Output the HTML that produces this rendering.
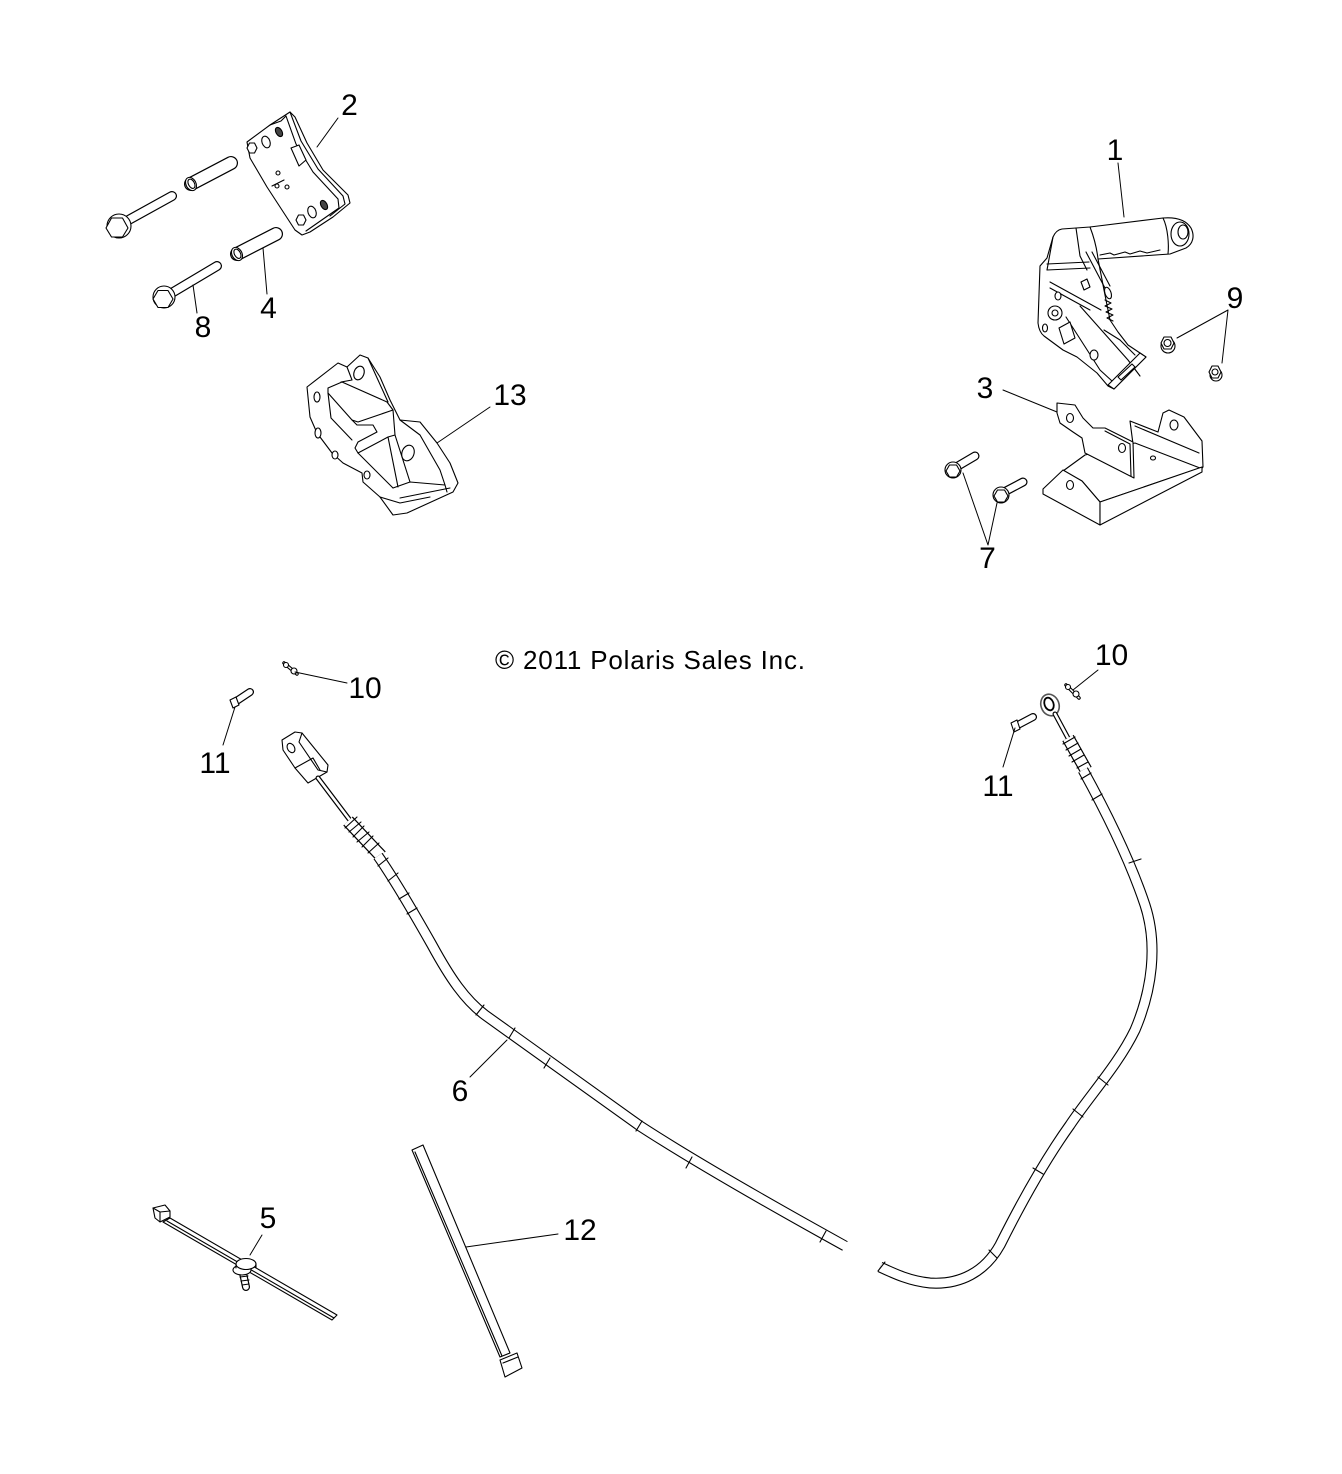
<!DOCTYPE html>
<html><head><meta charset="utf-8"><style>
html,body{margin:0;padding:0;background:#fff;}
svg{display:block;}
text{font-family:"Liberation Sans",Arial,sans-serif;fill:#000;}
</style></head><body>
<svg width="1342" height="1474" viewBox="0 0 1342 1474" xmlns="http://www.w3.org/2000/svg">
<rect width="1342" height="1474" fill="#fff"/>
<g fill="#fff" stroke="#000" stroke-width="1.1" stroke-linejoin="round" stroke-linecap="round">

<!-- ===== PART 2 group (bolts, sleeves, bracket) ===== -->
<path d="M125,222 L172,196" stroke-width="10" fill="none"/>
<path d="M125,222 L172,196" stroke="#fff" stroke-width="7.6" fill="none"/>
<circle cx="119" cy="226" r="12"/>
<polygon points="128,228 122.5,237 111.5,237 106,228 111.5,218 122.5,218"/>
<path d="M191,184 L231,163" stroke-width="14" fill="none"/>
<path d="M191,184 L231,163" stroke="#fff" stroke-width="11.6" fill="none"/>
<ellipse cx="191" cy="184" rx="5" ry="7" transform="rotate(-28 191 184)"/>
<ellipse cx="191.5" cy="184" rx="3" ry="5" transform="rotate(-28 191 184)"/>
<path d="M170,294 L217,266" stroke-width="10" fill="none"/>
<path d="M170,294 L217,266" stroke="#fff" stroke-width="7.6" fill="none"/>
<circle cx="164" cy="297" r="11"/>
<polygon points="173,299 168,307.5 158,307.5 153,299 158,290.5 168,290.5"/>
<path d="M237,254 L276,234" stroke-width="14" fill="none"/>
<path d="M237,254 L276,234" stroke="#fff" stroke-width="11.6" fill="none"/>
<ellipse cx="237" cy="254" rx="5" ry="7" transform="rotate(-28 237 254)"/>
<ellipse cx="237.5" cy="254" rx="3" ry="5" transform="rotate(-28 237 254)"/>
<path d="M247,142 L270,125 L290,112 L295,117 L307,143 L323,170 L348,195 L350,203 L333,217 L310,232 L302,235 L295,230 L267,187 L250,158 Z"/>
<path d="M290,112 L301,141 L318,169 L343,196" fill="none"/>
<path d="M286,116 L296,144 L313,172 L338,199" fill="none"/>
<path d="M270,125 L281,121 L286,116" fill="none"/>
<path d="M343,196 L345,204 L330,216" fill="none"/>
<path d="M338,199 L339,208 L306,231" fill="none"/>
<path d="M291,148 L299,145 L306,160 L299,166 Z"/>
<polygon points="257,148 254.5,153 249.5,153 247,148 249.5,143 254.5,143"/>
<ellipse cx="266" cy="142" rx="4" ry="6" transform="rotate(-20 266 142)"/>
<ellipse cx="279" cy="132" rx="3" ry="5" fill="#444" transform="rotate(-30 279 132)"/>
<polygon points="306,220 303.5,225 298.5,225 296,220 298.5,215 303.5,215"/>
<ellipse cx="312" cy="212" rx="4" ry="6" transform="rotate(-20 312 212)"/>
<ellipse cx="324" cy="205" rx="3" ry="5" fill="#444" transform="rotate(-30 324 205)"/>
<circle cx="278" cy="173" r="2"/>
<circle cx="277" cy="186" r="2"/>
<circle cx="287" cy="187" r="2"/>
<path d="M272,186 L284,180" fill="none"/>

<!-- ===== PART 13 ===== -->
<path d="M307,387 L338,363 L347,367 L360,355 L368,358 L380,377 L390,400 L400,420 L420,422 L437,443 L450,463 L458,483 L453,492 L407,513 L393,515 L380,497 L363,482 L362,473 L343,463 L332,453 L317,433 L310,417 Z"/>
<path d="M347,367 L352,380 L341,382" fill="none"/>
<path d="M368,358 L378,380 L388,402" fill="none"/>
<path d="M328,388 L342,382 L387,402 L393,410 L358,422 L352,420 L328,393 Z"/>
<path d="M352,420 L357,425 L373,425 L377,432 L358,442 L355,448 L358,453 L388,437 L395,435" fill="none"/>
<path d="M393,410 L395,435 L410,482" fill="none"/>
<path d="M388,437 L398,487" fill="none"/>
<path d="M358,453 L393,488" fill="none"/>
<path d="M328,393 L331,418 L352,440" fill="none"/>
<path d="M400,420 L420,435 L440,470 L445,485" fill="none"/>
<path d="M393,488 L410,482 L445,485 L447,492" fill="none"/>
<path d="M400,498 L430,492 L450,488" fill="none"/>
<path d="M380,497 L400,503 L430,497" fill="none"/>
<ellipse cx="317" cy="397" rx="3" ry="5"/>
<ellipse cx="318" cy="433" rx="3" ry="5"/>
<ellipse cx="335" cy="455" rx="3" ry="4"/>
<ellipse cx="367" cy="475" rx="3" ry="4"/>
<ellipse cx="408" cy="453" rx="6" ry="8" transform="rotate(20 408 453)"/>
<ellipse cx="359" cy="373" rx="5" ry="7" transform="rotate(20 359 373)"/>

<!-- ===== PART 1 lever ===== -->
<path d="M1090,227 L1163,218 C1176,217 1186,220 1191,228 C1195,236 1193,244 1186,248 L1170,254 L1098,259 L1104,290 L1110,320 L1118,332 L1128,345 L1140,353 L1146,357 L1114,389 L1108,386 L1097,373 L1077,357 L1063,350 L1044,336 Q1039,332 1038,323 L1040,266 L1047,258 L1053,237 Q1056,230 1062,229 L1076,228 Z"/>
<path d="M1090,227 C1095,240 1097,250 1098,259" fill="none"/>
<path d="M1163,218 C1168,228 1169,245 1168,254" fill="none"/>
<ellipse cx="1180" cy="234" rx="9" ry="12"/>
<ellipse cx="1183" cy="232" rx="5" ry="7"/>
<path d="M1100,255 L1110,253 L1114,255 L1125,252 L1130,254 L1140,251 L1147,253 L1160,250" fill="none"/>
<path d="M1047,270 L1090,268" fill="none"/>
<path d="M1047,264 L1089,262" fill="none"/>
<path d="M1053,237 L1047,270" fill="none"/>
<path d="M1076,228 L1080,256 L1087,270" fill="none"/>
<path d="M1086,252 L1106,290" fill="none"/>
<path d="M1092,252 L1110,286" fill="none"/>
<ellipse cx="1108" cy="293" rx="3" ry="6" transform="rotate(-20 1108 293)"/>
<path d="M1105,300 L1111,303 L1105,306 L1112,309 L1106,312 L1113,315 L1107,318 L1113,321" fill="none"/>
<path d="M1050,282 L1101,310" fill="none"/>
<path d="M1050,288 L1090,310" fill="none"/>
<path d="M1080,306 L1128,360 L1140,376" fill="none"/>
<path d="M1066,317 L1100,370 L1112,381" fill="none"/>
<path d="M1104,330 L1120,340 L1135,355" fill="none"/>
<polygon points="1108,385 1140,353 1146,357 1114,389"/>
<polygon points="1118,377 1132,364 1135,367 1121,380"/>
<circle cx="1055" cy="313" r="7"/>
<circle cx="1055" cy="313" r="3"/>
<ellipse cx="1045" cy="328" rx="2.5" ry="4"/>
<ellipse cx="1094" cy="355" rx="4" ry="5"/>
<ellipse cx="1058" cy="296" rx="3" ry="4"/>
<polygon points="1059,328 1070,322 1075,338 1064,344"/>
<polygon points="1081,282 1087,279 1090,287 1084,290"/>

<!-- nuts 9 -->
<ellipse cx="1168" cy="346" rx="7" ry="7"/>
<polygon points="1174,343 1171,349 1164,349 1161,343 1164,337 1171,337"/>
<circle cx="1167.5" cy="343" r="3.5"/>
<ellipse cx="1216" cy="375" rx="6" ry="6"/>
<polygon points="1221,372 1218,378 1212,378 1209,372 1212,366 1218,366"/>
<circle cx="1215" cy="372" r="3"/>

<!-- ===== PART 3 ===== -->
<path d="M1130,421 L1158,432 L1163,413 L1169,410 L1184,417 L1202,441 L1203,467 L1199,472 L1133,444 Z"/>
<path d="M1135,426 L1199,453" fill="none"/>
<ellipse cx="1174" cy="425" rx="4" ry="5"/>
<path d="M1063,471 L1082,481 L1100,502 L1200,468 L1135,443 L1085,455 Z"/>
<path d="M1043,489 L1063,470 L1082,481 L1100,502 L1100,525 L1043,494 Z"/>
<path d="M1100,502 L1202,467 L1202,472 L1100,525 Z"/>
<ellipse cx="1070" cy="485" rx="3.5" ry="4.5"/>
<ellipse cx="1153" cy="458" rx="2.5" ry="2"/>
<path d="M1057,403 L1075,405 L1083,418 L1093,428 L1105,428 L1133,442 L1134,478 L1085,453 L1082,438 L1073,432 L1060,423 L1057,413 Z"/>
<path d="M1105,431 L1130,444 L1131,476" fill="none"/>
<ellipse cx="1070" cy="418" rx="3.5" ry="4.5"/>
<ellipse cx="1122" cy="448" rx="3.5" ry="4.5"/>

<!-- bolts 7 -->
<path d="M958,466 L975,456" stroke-width="9" fill="none"/>
<path d="M958,466 L975,456" stroke="#fff" stroke-width="6.6" fill="none"/>
<circle cx="953" cy="470" r="8"/>
<polygon points="960,471 956.5,477 949.5,477 946,471 949.5,465 956.5,465"/>
<path d="M1006,491 L1023,482" stroke-width="9" fill="none"/>
<path d="M1006,491 L1023,482" stroke="#fff" stroke-width="6.6" fill="none"/>
<circle cx="1001" cy="495" r="8"/>
<polygon points="1008,496 1004.5,502 997.5,502 994,496 997.5,490 1004.5,490"/>

<!-- ===== small parts 10 / 11 ===== -->
<path d="M284,663 L297,674" stroke-width="3.5" fill="none"/>
<path d="M284,663 L297,674" stroke="#fff" stroke-width="1.4" fill="none"/>
<circle cx="286" cy="665" r="2.5"/>
<circle cx="294" cy="671" r="3"/>
<path d="M235,702 L250,692" stroke-width="8" fill="none"/>
<path d="M235,702 L250,692" stroke="#fff" stroke-width="5.6" fill="none"/>
<polygon points="230,700 236,697 239,705 233,708"/>

<path d="M1066,685 L1079,698" stroke-width="3.5" fill="none"/>
<path d="M1066,685 L1079,698" stroke="#fff" stroke-width="1.4" fill="none"/>
<circle cx="1068" cy="687" r="2.5"/>
<circle cx="1076" cy="694" r="3"/>
<path d="M1016,726 L1033,717" stroke-width="8" fill="none"/>
<path d="M1016,726 L1033,717" stroke="#fff" stroke-width="5.6" fill="none"/>
<polygon points="1011,723 1017,720 1020,729 1014,732"/>

<!-- ===== CABLE 6 left ===== -->
<path d="M282,740 L295,732 L302,733 L328,765 L327,772 L308,783 L295,768 L283,750 Z"/>
<path d="M302,733 L299,742 L318,770 L327,772" fill="none"/>
<path d="M295,768 L313,758 L320,770" fill="none"/>
<ellipse cx="291" cy="748" rx="3.5" ry="5" transform="rotate(-30 291 748)"/>
<path d="M318,778 L349,819" stroke-width="5" fill="none"/>
<path d="M318,778 L349,819" stroke="#fff" stroke-width="2.6" fill="none"/>
<path d="M348,821 L381,856" stroke-width="13" stroke-linecap="butt" fill="none"/>
<path d="M348,821 L381,856" stroke="#fff" stroke-width="10.6" stroke-linecap="butt" fill="none"/>
<path d="M357,817 L345,828 M361,822 L349,832 M364,826 L353,837 M369,832 L357,842 M373,836 L362,847 M379,843 L368,853" fill="none"/>
<path d="M378,856 C395,880 415,915 432,945 C450,978 465,1000 485,1015 C520,1040 580,1083 640,1126 C700,1165 780,1210 845,1246" stroke-width="11" stroke-linecap="butt" fill="none"/>
<path d="M378,856 C395,880 415,915 432,945 C450,978 465,1000 485,1015 C520,1040 580,1083 640,1126 C700,1165 780,1210 847,1247" stroke="#fff" stroke-width="8.8" stroke-linecap="butt" fill="none"/>
<path d="M388,858 L378,866 M398,873 L388,881 M409,893 L399,899 M417,908 L407,914 M484,1005 L476,1015 M515,1028 L509,1038 M550,1058 L544,1068 M642,1121 L636,1131 M692,1157 L686,1168 M826,1231 L820,1242" fill="none"/>

<!-- ===== CABLE 6 right ===== -->
<ellipse cx="1050" cy="705" rx="9" ry="11" transform="rotate(-20 1050 705)" stroke="#555" stroke-width="1.6"/>
<ellipse cx="1049" cy="704" rx="4.5" ry="6.5" transform="rotate(-20 1049 704)" stroke="#000" stroke-width="1.8"/>
<path d="M1055,714 L1069,740" stroke-width="5" fill="none"/>
<path d="M1055,714 L1069,740" stroke="#fff" stroke-width="2.6" fill="none"/>
<path d="M1068,738 L1086,770" stroke-width="13" stroke-linecap="butt" fill="none"/>
<path d="M1068,738 L1086,770" stroke="#fff" stroke-width="10.6" stroke-linecap="butt" fill="none"/>
<path d="M1075,737 L1063,744 M1078,743 L1066,750 M1081,749 L1069,756 M1084,755 L1072,762 M1088,762 L1077,768" fill="none"/>
<path d="M1083,770 C1105,810 1130,860 1145,905 C1158,945 1152,990 1135,1030 C1118,1065 1090,1095 1070,1125 C1045,1160 1020,1205 1000,1245 C985,1272 960,1285 930,1283 C910,1281 895,1274 880,1267" stroke-width="11" stroke-linecap="butt" fill="none"/>
<path d="M1083,770 C1105,810 1130,860 1145,905 C1158,945 1152,990 1135,1030 C1118,1065 1090,1095 1070,1125 C1045,1160 1020,1205 1000,1245 C985,1272 960,1285 930,1283 C910,1281 895,1274 880,1267" stroke="#fff" stroke-width="8.8" stroke-linecap="butt" fill="none"/>
<path d="M1091,773 L1081,779 M1102,794 L1092,800 M1141,859 L1129,863 M1108,1085 L1098,1077 M1083,1117 L1073,1109 M1043,1174 L1033,1168 M997,1258 L989,1250 M878,1271 L885,1262" fill="none"/>

<!-- ===== PART 5 tie with mount ===== -->
<path d="M170,1218 L337,1315 L332,1320 L163,1222 Z"/>
<path d="M167,1221 L334,1318" fill="none"/>
<path d="M153,1208 L165,1205 L170,1211 L170,1217 L160,1222 L155,1218 Z"/>
<path d="M153,1208 L160,1212 L170,1211 M160,1212 L160,1222" fill="none"/>
<path d="M243,1273 L246,1287" stroke-width="8" fill="none"/>
<path d="M243,1273 L246,1287" stroke="#fff" stroke-width="5.6" fill="none"/>
<path d="M240,1277 L248,1276 M241,1281 L249,1280 M242,1285 L249,1284" fill="none"/>
<ellipse cx="242" cy="1270" rx="9" ry="5"/>
<ellipse cx="246" cy="1264" rx="10" ry="5.5"/>
<path d="M236,1264 L236,1268 M256,1264 L256,1268" fill="none"/>

<!-- ===== PART 12 long tie ===== -->
<path d="M412,1150 L423,1145 L510,1353 L500,1357 Z"/>
<path d="M415,1152 L502,1356" fill="none"/>
<path d="M500,1360 L517,1353 L522,1368 L505,1377 Z"/>
<path d="M503,1363 L518,1357" fill="none"/>

<!-- ===== leader lines ===== -->
<g stroke-width="1" fill="none">
<path d="M338,118 L317,147"/>
<path d="M263,248 L267,294"/>
<path d="M193,285 L197,313"/>
<path d="M1118,163 L1124,217"/>
<path d="M1228,310 L1177,338 M1228,310 L1222,363"/>
<path d="M1003,390 L1057,412"/>
<path d="M988,545 L963,473 M988,545 L997,503"/>
<path d="M490,407 L437,443"/>
<path d="M295,672 L347,683"/>
<path d="M235,707 L223,745"/>
<path d="M1098,670 L1073,690"/>
<path d="M1015,728 L1003,767"/>
<path d="M507,1040 L470,1077"/>
<path d="M466,1247 L558,1234"/>
<path d="M262,1235 L250,1255"/>
</g>
</g>

<!-- ===== labels ===== -->
<g font-size="30" text-anchor="middle">
<text x="349.5" y="115">2</text>
<text x="268.5" y="318">4</text>
<text x="203" y="337">8</text>
<text x="1115" y="160">1</text>
<text x="1235" y="308">9</text>
<text x="985" y="398">3</text>
<text x="987.5" y="568">7</text>
<text x="510" y="405">13</text>
<text x="365" y="698">10</text>
<text x="215" y="773">11</text>
<text x="1111.5" y="665">10</text>
<text x="998" y="796">11</text>
<text x="460" y="1101">6</text>
<text x="580" y="1240">12</text>
<text x="268" y="1228">5</text>
</g>
<text x="495" y="669" font-size="26" textLength="310" lengthAdjust="spacing">© 2011 Polaris Sales Inc.</text>
</svg>
</body></html>
